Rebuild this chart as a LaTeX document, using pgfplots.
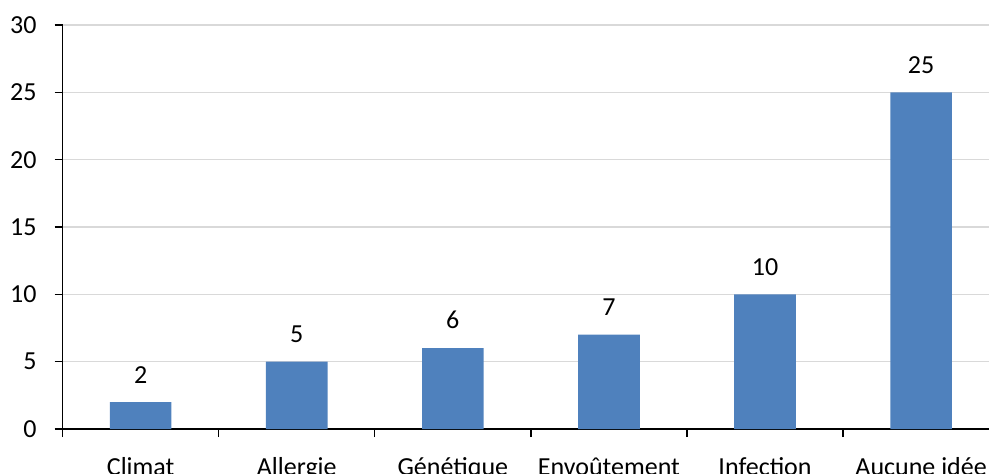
\documentclass[border=0pt]{standalone}
\usepackage{pgfplots}
\pgfplotsset{compat=1.18}
\usepackage{fontspec}
\setmainfont{Carlito}
\newcommand\lab{\fontsize{13pt}{15.6pt}\selectfont}
\definecolor{barblue}{HTML}{4F81BD}
\begin{document}
\begin{tikzpicture}
\begin{axis}[
  scale only axis, width=463.2pt, height=202pt,
  xmin=-0.5, xmax=5.435, ymin=0, ymax=30,
  axis x line*=bottom, axis y line*=left,
  axis line style={black, line width=0.7pt},
  ytick={0,5,...,30},
  xtick={0,...,5},
  xticklabels={Climat,Allergie,Génétique,Envoûtement,Infection,Aucune idée},
  minor xtick={-0.5,0.5,1.5,2.5,3.5,4.5},
  tick align=outside,
  major tick length=4pt, minor tick length=4pt,
  x tick style={draw=none},
  minor x tick style={draw=black, line width=0.7pt},
  y tick style={black, line width=0.7pt},
  ymajorgrids, grid style={draw=black!15, line width=0.7pt},
  /pgf/number format/assume math mode=true,
  ticklabel style={font=\lab},
  yticklabel style={xshift=-5.5pt},
  xticklabel style={anchor=base, yshift=-19pt},
  ybar, bar width=0.395,
  nodes near coords,
  every node near coord/.append style={font=\lab, yshift=6pt},
  clip=false,
]
\addplot[fill=barblue, draw=none] coordinates {(0,2) (1,5) (2,6) (3,7) (4,10) (5,25)};
\end{axis}
\pgfresetboundingbox
\path (current axis.south west) ++(-31.3pt,-22pt) rectangle ++(494.5pt,236.5pt);
\end{tikzpicture}
\end{document}
